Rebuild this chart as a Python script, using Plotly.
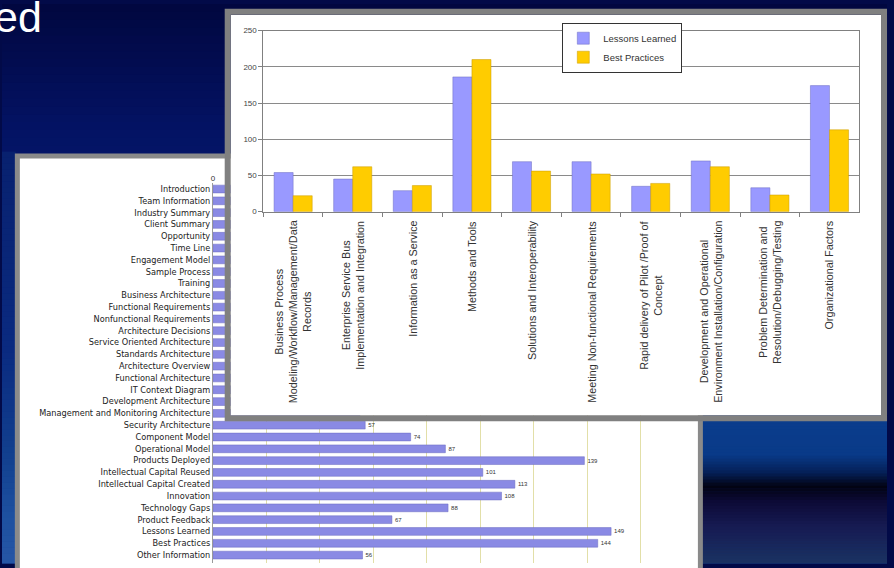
import plotly.graph_objects as go

W, H = 894, 568

# ---------------- data: front chart (grouped columns) ----------------
topics = [
    "Business Process Modeling/Workflow/Management/Data Records",
    "Enterprise Service Bus Implementation and Integration",
    "Information as a Service",
    "Methods and Tools",
    "Solutions and Interoperability",
    "Meeting Non-functional Requirements",
    "Rapid delivery of Pilot /Proof of Concept",
    "Development and Operational Environment Installation/Configuration",
    "Problem Determination and Resolution/Debugging/Testing",
    "Organizational Factors",
]
topic_labels = [
    "Business Process<br>Modeling/Workflow/Management/Data<br>Records",
    "Enterprise Service Bus<br>Implementation and Integration",
    "Information as a Service",
    "Methods and Tools",
    "Solutions and Interoperability",
    "Meeting Non-functional Requirements",
    "Rapid delivery of Pilot /Proof of<br>Concept",
    "Development and Operational<br>Environment Installation/Configuration",
    "Problem Determination and<br>Resolution/Debugging/Testing",
    "Organizational Factors",
]
lessons_learned = [54, 45, 29, 186, 69, 69, 35, 70, 33, 174]
best_practices = [22, 62, 36, 210, 56, 52, 39, 62, 23, 113]

# ---------------- data: back chart (horizontal bars) ----------------
sections = [
    "Introduction", "Team Information", "Industry Summary", "Client Summary",
    "Opportunity", "Time Line", "Engagement Model", "Sample Process", "Training",
    "Business Architecture", "Functional Requirements", "Nonfunctional Requirements",
    "Architecture Decisions", "Service Oriented Architecture", "Standards Architecture",
    "Architecture Overview", "Functional Architecture", "IT Context Diagram",
    "Development Architecture", "Management and Monitoring Architecture",
    "Security Architecture", "Component Model", "Operational Model",
    "Products Deployed", "Intellectual Capital Reused", "Intellectual Capital Created",
    "Innovation", "Technology Gaps", "Product Feedback", "Lessons Learned",
    "Best Practices", "Other Information",
]
section_counts = [
    160, 150, 120, 140, 130, 100, 110, 60, 70,
    120, 130, 110, 90, 100, 60, 130, 90, 80, 50, 55,
    57, 74, 87, 139, 101, 113, 108, 88, 67, 149, 144, 56,
]

FONT = "Liberation Sans, Arial, sans-serif"


def px_x(x):
    return x / W


def px_y(y):
    return 1 - y / H


def hex2rgb(h):
    h = h.lstrip("#")
    return tuple(int(h[i:i + 2], 16) for i in (0, 2, 4))


def interp(stops, y):
    for (y0, c0), (y1, c1) in zip(stops[:-1], stops[1:]):
        if y0 <= y <= y1:
            t = 0 if y1 == y0 else (y - y0) / (y1 - y0)
            a, b = hex2rgb(c0), hex2rgb(c1)
            return "rgb(%d,%d,%d)" % tuple(round(a[k] + (b[k] - a[k]) * t) for k in range(3))
    return stops[-1][1]


shapes = []


def bands(x0, x1, stops, step):
    y = stops[0][0]
    end = stops[-1][0]
    while y < end:
        yb = min(y + step, end)
        shapes.append(dict(type="rect", xref="paper", yref="paper", layer="below",
                           x0=px_x(x0), x1=px_x(x1), y0=px_y(yb + 0.5), y1=px_y(y),
                           fillcolor=interp(stops, (y + yb) / 2), line=dict(width=0)))
        y = yb


# slide background
bands(0, W, [(0, "#01073f"), (120, "#031262"), (260, "#061d76"), (400, "#0a2c86"), (568, "#0e3a90")], 8)
bands(0, 14, [(150, "#08216f"), (350, "#0a2a80"), (460, "#12408f"), (520, "#1d50a0"), (568, "#2656a6")], 6)
bands(705, W, [(420, "#0b3d8d"), (458, "#093a88"), (476, "#052058"), (490, "#020312"),
               (505, "#0c0a35"), (530, "#161a52"), (568, "#1a3262")], 3)

# back panel (white card with grey frame)
shapes.append(dict(type="rect", xref="paper", yref="paper", layer="below",
                   x0=px_x(15.5), x1=px_x(705.5), y0=px_y(585), y1=px_y(154.5),
                   fillcolor="white", line=dict(color="#8a8a8a", width=5)))
# front panel frame (on top)
shapes.append(dict(type="rect", xref="paper", yref="paper", layer="above",
                   x0=px_x(228), x1=px_x(891), y0=px_y(421), y1=px_y(8),
                   fillcolor="rgba(0,0,0,0)", line=dict(color="#808080", width=6)))

fig = go.Figure()

# back chart
fig.add_trace(go.Bar(
    y=sections, x=section_counts, orientation="h", xaxis="x", yaxis="y",
    width=0.66, marker=dict(color="#8a8ae4", line=dict(color="#6a6ac0", width=0.5)),
    text=section_counts, textposition="outside", cliponaxis=False,
    textfont=dict(size=6, color="#333333"), showlegend=False, hoverinfo="skip",
))
# cover subplot (white card behind the front chart)
fig.add_trace(go.Scatter(x=[], y=[], xaxis="x2", yaxis="y2", showlegend=False, hoverinfo="skip"))
# front chart
fig.add_trace(go.Bar(
    name="Lessons Learned", x=topics, y=lessons_learned, xaxis="x3", yaxis="y3",
    marker=dict(color="#9999ff", line=dict(color="#6c6cc0", width=0.5)),
))
fig.add_trace(go.Bar(
    name="Best Practices", x=topics, y=best_practices, xaxis="x3", yaxis="y3",
    marker=dict(color="#ffcc00", line=dict(color="#c89a00", width=0.5)),
))

annotations = [dict(text="ed", xref="paper", yref="paper", x=px_x(42), y=px_y(-13),
                    xanchor="right", yanchor="top", showarrow=False,
                    font=dict(family=FONT, size=43, color="white"))]
for cat, lab in zip(topics, topic_labels):
    annotations.append(dict(text=lab, xref="x3", yref="paper", x=cat, y=px_y(218),
                            xanchor="center", yanchor="top", textangle=-90, align="center",
                            showarrow=False, font=dict(family=FONT, size=10.8, color="#333333")))

fig.update_layout(
    width=W, height=H, margin=dict(l=0, r=0, t=0, b=0),
    paper_bgcolor="#020a48", plot_bgcolor="white",
    font=dict(family=FONT, color="#333333"),
    barmode="group", bargap=0.36, bargroupgap=0,
    shapes=shapes, annotations=annotations,
    showlegend=True,
    legend=dict(x=px_x(566), y=px_y(19), xanchor="left", yanchor="top",
                bgcolor="white", bordercolor="#333333", borderwidth=1,
                font=dict(size=9.5, color="#333333"), traceorder="normal",
                tracegroupgap=0, itemwidth=30),
    # back chart axes
    xaxis=dict(domain=[px_x(213), px_x(699)], anchor="y", side="top", range=[0, 180], dtick=20,
               showgrid=True, gridcolor="#e2dfa8", gridwidth=1, zeroline=False,
               showline=False, ticks="", tickfont=dict(size=8, color="#333333")),
    yaxis=dict(domain=[0, px_y(182)], anchor="x", type="category", range=[31.67, -0.5],
               tickmode="array", tickvals=sections, ticktext=sections,
               showline=True, linecolor="#9a9a9a", ticks="", showgrid=False,
               tickfont=dict(family="DejaVu Sans, sans-serif", size=8.2, color="#222222")),
    # cover subplot axes
    xaxis2=dict(domain=[px_x(231), px_x(888)], anchor="y2", range=[0, 1], showgrid=False,
                zeroline=False, showticklabels=False, ticks="", showline=False),
    yaxis2=dict(domain=[px_y(418), px_y(11)], anchor="x2", range=[0, 1], showgrid=False,
                zeroline=False, showticklabels=False, ticks="", showline=False),
    # front chart axes
    xaxis3=dict(domain=[px_x(264), px_x(866)], anchor="y3", type="category",
                showticklabels=False, ticks="outside", tickson="boundaries", ticklen=4,
                tickcolor="#808080", showline=True, linecolor="#808080", mirror=True,
                showgrid=False, zeroline=False),
    yaxis3=dict(domain=[px_y(211), px_y(27)], anchor="x3", range=[0, 250], dtick=50,
                ticks="outside", ticklen=4, tickcolor="#808080",
                tickfont=dict(size=8, color="#444444"),
                showgrid=True, gridcolor="#8a8a8a", gridwidth=1,
                showline=True, linecolor="#808080", mirror=True, zeroline=False),
)

post = (
    "document.documentElement.style.margin='0';"
    "document.documentElement.style.overflow='hidden';"
    "document.body.style.margin='0';"
    "document.body.style.overflow='hidden';"
    "var gd=document.querySelector('.plotly-graph-div');"
    "if(gd){gd.style.position='fixed';gd.style.left='0px';gd.style.top='0px';"
    "gd.style.margin='0';}"
)

fig.write_html("out.html", config={"displayModeBar": False}, post_script=post)
